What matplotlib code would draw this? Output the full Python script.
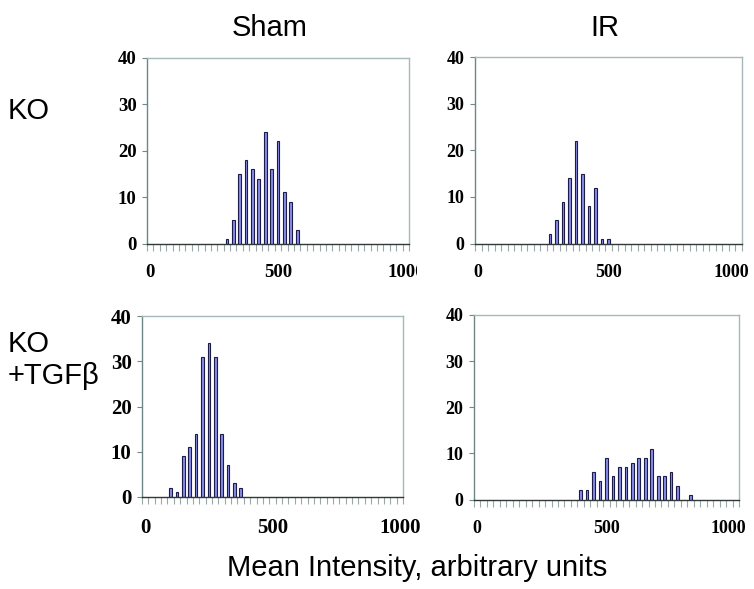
import matplotlib
matplotlib.use("Agg")
import matplotlib.pyplot as plt
import numpy as np
from matplotlib.transforms import Bbox, ScaledTranslation

# histogram bins of width 25 on a 0..1000 category axis
bin_width = 25
x_labels = [0, 500, 1000]
y_ticks = [0, 10, 20, 30, 40]

ko_sham_start = 300
ko_sham_counts = [1, 5, 15, 18, 16, 14, 24, 16, 22, 11, 9, 3]

ko_ir_start = 275
ko_ir_counts = [2, 5, 9, 14, 22, 15, 8, 12, 1, 1]

tgf_sham_start = 100
tgf_sham_counts = [2, 1, 9, 11, 14, 31, 34, 31, 14, 7, 3, 2]

tgf_ir_start = 400
tgf_ir_counts = [2, 2, 6, 4, 9, 5, 7, 7, 8, 9, 9, 11, 5, 5, 6, 3, 0, 1]

col_titles = ["Sham", "IR"]
row_titles = ["KO", "KO\n+TGF\u03b2"]
xlabel = "Mean Intensity, arbitrary units"

W, H = 754, 589
fig = plt.figure(figsize=(W / 100, H / 100), dpi=100)

def px_axes(left, top, right, bottom):
    return fig.add_axes([left / W, 1 - bottom / H, (right - left) / W, (bottom - top) / H])

panels = [
    (px_axes(147, 58, 409, 243.5), ko_sham_start, ko_sham_counts, 13.5),
    (px_axes(475, 57, 742, 243.5), ko_ir_start, ko_ir_counts, 13),
    (px_axes(142, 316, 403, 497), tgf_sham_start, tgf_sham_counts, 15),
    (px_axes(474, 315, 739, 499.5), tgf_ir_start, tgf_ir_counts, 13),
]

serif = "Liberation Serif"
for ax, start, counts, fs in panels:
    xs = start + bin_width * np.arange(len(counts))
    ax.bar(xs, counts, width=10.5, color="#8a8de8", edgecolor="#1c1c4a", linewidth=0.8)
    ax.set_xlim(-12.5, 1012.5)
    ax.set_ylim(0, 40)

    ax.set_xticks(x_labels)
    ax.set_xticklabels([str(v) for v in x_labels], fontfamily=serif, fontweight="bold", fontsize=fs)
    ax.set_xticks(np.arange(-12.5, 1013, bin_width), minor=True)
    ax.tick_params(axis="x", which="major", length=0, pad=15)
    ax.tick_params(axis="x", which="minor", length=5, width=0.8, color="#9aa8a8", direction="out")

    ax.set_yticks(y_ticks)
    ax.set_yticklabels([str(v) for v in y_ticks], fontfamily=serif, fontweight="bold", fontsize=fs)
    ax.tick_params(axis="y", length=3.5, width=0.8, color="#708888", pad=4)

    ax.spines["left"].set_color("#6f8585")
    ax.spines["bottom"].set_color("#303838")
    ax.spines["top"].set_color("#a7b8b8")
    ax.spines["right"].set_color("#a7b8b8")
    for s in ax.spines.values():
        s.set_linewidth(1.0)

# the "1000" label on the first panel is cut off in the source
lbl = panels[0][0].xaxis.get_major_ticks()[-1].label1
lbl.set_clip_on(True)
lbl.set_clip_box(Bbox.from_extents(0, 0, 417, H))

# keep the right-hand "1000" labels inside the figure
for ax in (panels[1][0], panels[3][0]):
    t = ax.xaxis.get_major_ticks()[-1].label1
    t.set_transform(t.get_transform() + ScaledTranslation(-7 / 100, 0, fig.dpi_scale_trans))

sans = "Liberation Sans"
fig.text(270 / W, 1 - 28 / H, col_titles[0], fontfamily=sans, fontsize=21, ha="center", va="center")
fig.text(605 / W, 1 - 28 / H, col_titles[1], fontfamily=sans, fontsize=21, ha="center", va="center")
fig.text(8 / W, 1 - 111 / H, row_titles[0], fontfamily=sans, fontsize=21, ha="left", va="center")
fig.text(8 / W, 1 - 360 / H, row_titles[1], fontfamily=sans, fontsize=21, ha="left", va="center",
         linespacing=1.15)
fig.text(417 / W, 1 - 568 / H, xlabel, fontfamily=sans, fontsize=21, ha="center", va="center")

fig.savefig("out.png", dpi=100)
